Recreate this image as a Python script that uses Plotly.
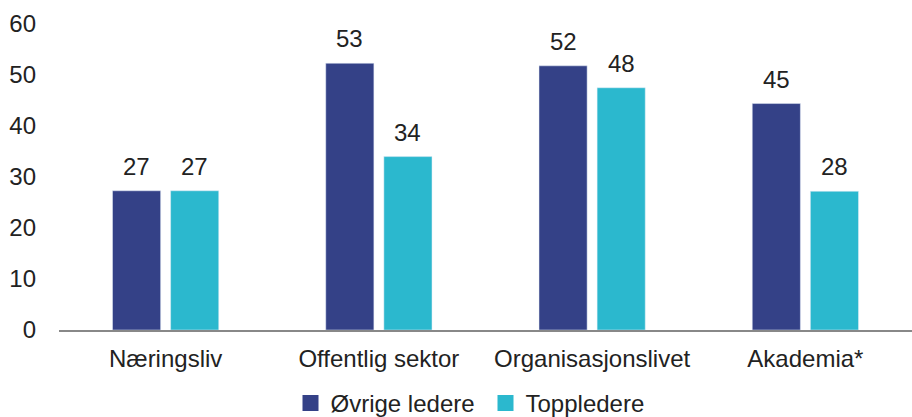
import plotly.graph_objects as go

categories = ["Næringsliv", "Offentlig sektor", "Organisasjonslivet", "Akademia*"]
ovrige_values = [27.3, 52.3, 51.8, 44.4]
topp_values = [27.3, 34.0, 47.5, 27.2]
ovrige_labels = ["27", "53", "52", "45"]
topp_labels = ["27", "34", "48", "28"]
series_names = ["Øvrige ledere", "Toppledere"]
y_ticks = [0, 10, 20, 30, 40, 50, 60]

NAVY = "#344187"
CYAN = "#2BB8CE"
FONT = "Liberation Sans, Arial, sans-serif"
TXT = "#222222"
FS = 24

fig = go.Figure()
fig.add_trace(go.Bar(x=categories, y=ovrige_values, name=series_names[0],
                     marker=dict(color=NAVY), showlegend=False))
fig.add_trace(go.Bar(x=categories, y=topp_values, name=series_names[1],
                     marker=dict(color=CYAN), showlegend=False))
# legend entries with larger square swatches
fig.add_trace(go.Scatter(x=[None], y=[None], mode="markers", name=series_names[0],
                         marker=dict(symbol="square", size=16, color=NAVY)))
fig.add_trace(go.Scatter(x=[None], y=[None], mode="markers", name=series_names[1],
                         marker=dict(symbol="square", size=16, color=CYAN)))

for cat, v, lab in zip(categories, ovrige_values, ovrige_labels):
    fig.add_annotation(x=cat, y=v, text=lab, showarrow=False, yanchor="bottom",
                       xshift=-29, yshift=9, font=dict(size=FS, color=TXT, family=FONT))
for cat, v, lab in zip(categories, topp_values, topp_labels):
    fig.add_annotation(x=cat, y=v, text=lab, showarrow=False, yanchor="bottom",
                       xshift=29, yshift=9, font=dict(size=FS, color=TXT, family=FONT))

fig.update_layout(
    width=912, height=417,
    margin=dict(l=59, r=0, t=24, b=87, autoexpand=False),
    paper_bgcolor="white", plot_bgcolor="white",
    font=dict(family=FONT, size=FS, color=TXT),
    barmode="group", bargap=0.455, bargroupgap=0.172,
    showlegend=True,
    legend=dict(orientation="h", x=0.5, xanchor="center", y=-0.24, yanchor="middle",
                font=dict(size=FS, color=TXT), itemwidth=30, entrywidth=150,
                tracegroupgap=0, bgcolor="rgba(0,0,0,0)"),
    xaxis=dict(showline=True, linecolor="#888888", linewidth=2, showgrid=False,
               ticks="", ticklabelstandoff=6, tickfont=dict(size=FS, color=TXT),
               automargin=False),
    yaxis=dict(range=[0, 60], tickvals=y_ticks, showgrid=False, zeroline=False,
               showline=False, ticks="", ticklabelstandoff=22,
               tickfont=dict(size=FS, color=TXT), automargin=False),
)

fig.write_html("out.html", config={"displayModeBar": False},
               post_script="document.body.style.margin='0';")
